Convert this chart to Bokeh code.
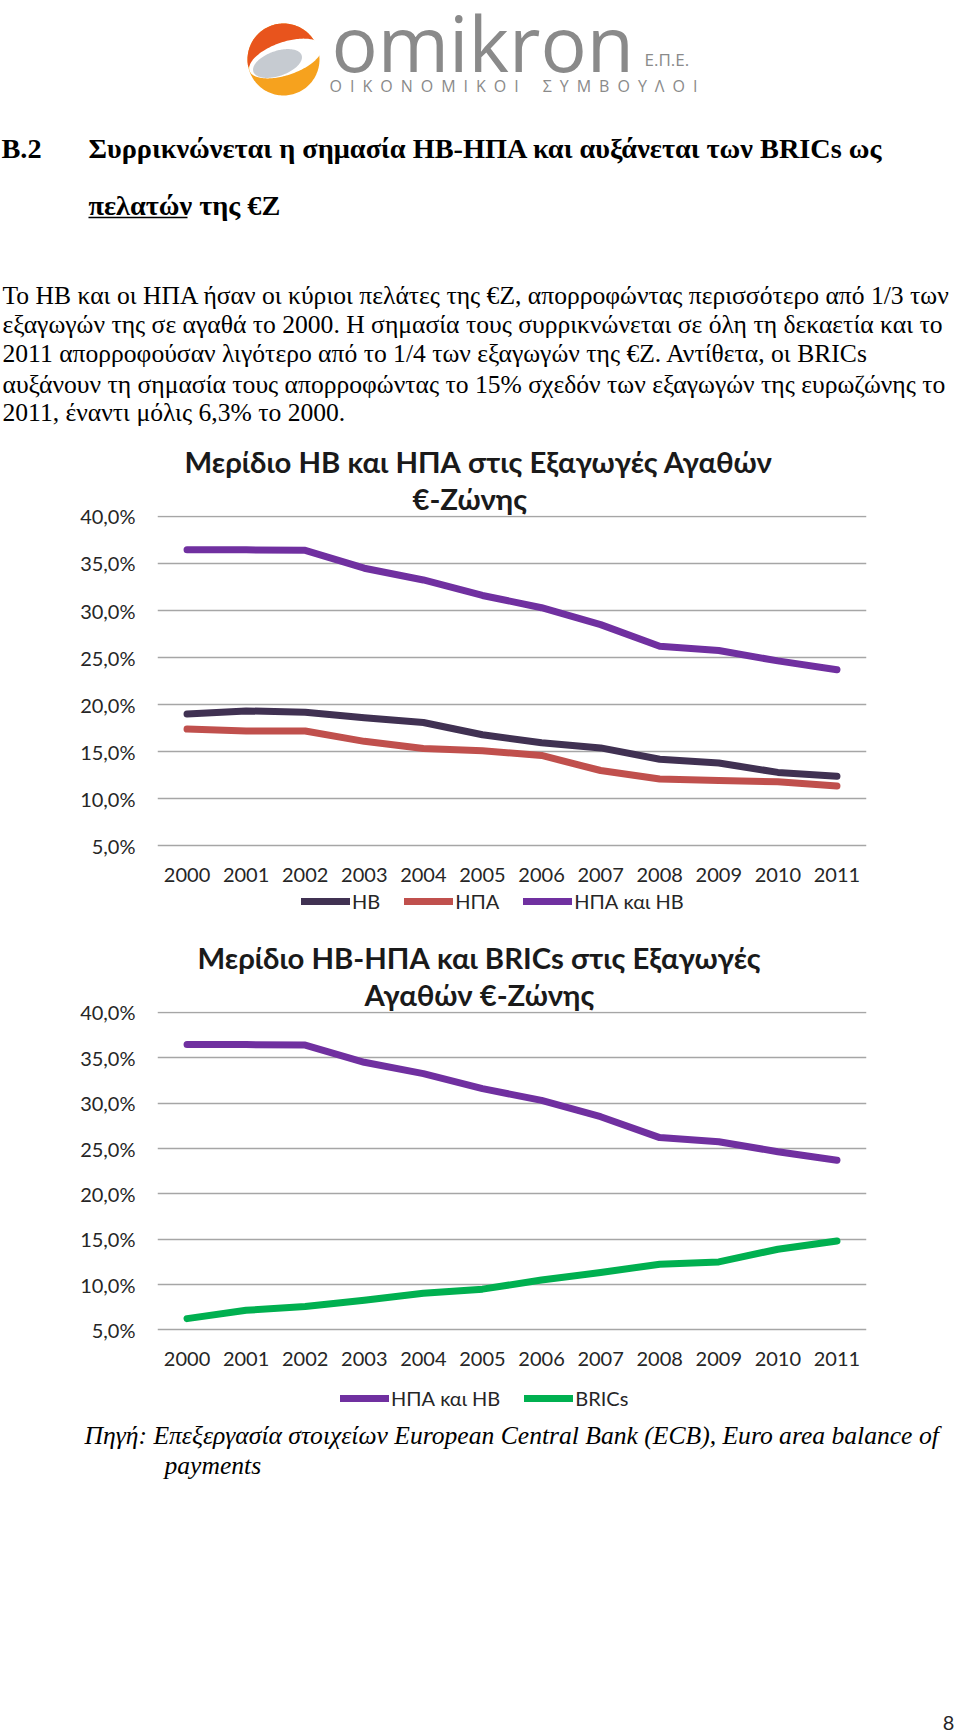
import numpy as np
from bokeh.plotting import figure
from bokeh.models import Range1d, FactorRange, FixedTicker, Legend, LegendItem, Title
from bokeh.embed import file_html
from bokeh.resources import INLINE
from bokeh.core.properties import value

# ---------------- data ----------------
years = ["2000", "2001", "2002", "2003", "2004", "2005",
         "2006", "2007", "2008", "2009", "2010", "2011"]
hb = [19.0, 19.33, 19.2, 18.6, 18.1, 16.8, 15.95, 15.4, 14.2, 13.8, 12.8, 12.4]
hpa = [17.4, 17.2, 17.2, 16.1, 15.35, 15.1, 14.6, 13.0, 12.1, 11.95, 11.8, 11.35]
hpa_hb = [36.45, 36.45, 36.4, 34.5, 33.25, 31.6, 30.3, 28.5, 26.2, 25.75, 24.65, 23.7]
brics = [6.25, 7.17, 7.58, 8.28, 9.05, 9.5, 10.5, 11.33, 12.25, 12.5, 13.9, 14.8]

y_ticks = [5, 10, 15, 20, 25, 30, 35, 40]
y_tick_labels = ["5,0%", "10,0%", "15,0%", "20,0%", "25,0%", "30,0%", "35,0%", "40,0%"]

chart1_title = ["Μερίδιο ΗΒ και ΗΠΑ στις Εξαγωγές Αγαθών", "€-Ζώνης"]
chart2_title = ["Μερίδιο ΗΒ-ΗΠΑ και BRICs στις Εξαγωγές", "Αγαθών €-Ζώνης"]

heading_num = "B.2"
heading_lines = ["Συρρικνώνεται η σημασία ΗΒ-ΗΠΑ και αυξάνεται των BRICs ως",
                 "πελατών της €Ζ"]
body_lines = [
    "Το ΗΒ και οι ΗΠΑ ήσαν οι κύριοι πελάτες της €Ζ, απορροφώντας περισσότερο από 1/3 των",
    "εξαγωγών της σε αγαθά το 2000.  Η σημασία τους συρρικνώνεται σε όλη τη δεκαετία και το",
    "2011 απορροφούσαν λιγότερο από το 1/4 των εξαγωγών της €Ζ.  Αντίθετα, οι BRICs",
    "αυξάνουν τη σημασία τους απορροφώντας το 15% σχεδόν των εξαγωγών της ευρωζώνης το",
    "2011, έναντι μόλις 6,3% το 2000.",
]
source_lines = ["Πηγή:  Επεξεργασία στοιχείων European Central Bank (ECB), Euro area balance of",
                "payments"]

C_HB = "#403152"
C_HPA = "#C0504D"
C_HPAHB = "#7030A0"
C_BRICS = "#00B050"
TXT = "#262626"
W = 960


def blank(height, y0):
    p = figure(width=W, height=height, x_range=Range1d(0, W), y_range=Range1d(y0 + height, y0),
               output_backend="svg", toolbar_location=None, title=None,
               x_axis_location=None, y_axis_location=None, min_border=0)
    p.grid.visible = False
    p.outline_line_color = None
    return p


# ---------------- header (image pixel coordinates) ----------------
HDR_H = 434
hdr = blank(HDR_H, 0)

cx, cy, r = 283.0, 59.0, 36.0
t = np.linspace(0, 2 * np.pi, 160)
hdr.patch(cx + r * np.cos(t), cy - r * np.sin(t), fill_color="#F6A21E", line_color=None)
t2 = np.linspace(0.2, np.pi + 0.2, 100)
hdr.patch(cx + r * np.cos(t2), cy - r * np.sin(t2), fill_color="#E8541D", line_color=None)


def ell(x0, y0, a, b, ang):
    xs = a * np.cos(t)
    ys = b * np.sin(t)
    xr = xs * np.cos(ang) - ys * np.sin(ang)
    yr = xs * np.sin(ang) + ys * np.cos(ang)
    return x0 + xr, y0 - yr


wx, wy = ell(cx + 2, cy - 1, 38, 16.5, 0.33)
hdr.patch(wx, wy, fill_color="white", line_color=None)
gx, gy = ell(cx - 6, cy + 4, 25.5, 12.5, 0.33)
hdr.patch(gx, gy, fill_color="#C6CBD1", line_color=None)

sep = "\u2002"
logo_sub = sep.join("ΟΙΚΟΝΟΜΙΚΟΙ") + sep * 3 + sep.join("ΣΥΜΒΟΥΛΟΙ")
hdr.text(x=[331], y=[42], text=["omikron"], text_font=value("Open Sans"), text_font_size=value("77px"),
         text_color="#8A8A8A", text_baseline="middle", text_align="left")
hdr.text(x=[644], y=[59], text=["Ε.Π.Ε."], text_font=value("Open Sans"), text_font_size=value("17px"),
         text_color="#8A8A8A", text_baseline="middle", text_align="left")
hdr.text(x=[329], y=[85], text=[logo_sub], text_font=value("Open Sans"),
         text_font_size=value("16px"), text_color="#8A8A8A", text_baseline="middle", text_align="left")

hdr.text(x=[1, 88, 88], y=[148, 148, 205], text=[heading_num] + heading_lines,
         text_font=value("Liberation Serif"), text_font_style="bold", text_font_size=value("28.3px"),
         text_color="black", text_baseline="middle", text_align="left")
hdr.segment(x0=[88], y0=[217], x1=[187], y1=[217], line_color="black", line_width=1.5)

hdr.text(x=[2] * 5, y=[295, 324, 353, 384, 412], text=body_lines,
         text_font=value("Liberation Serif"), text_font_size=value("25.6px"),
         text_color="black", text_baseline="middle", text_align="left")


# ---------------- charts ----------------
FRAME_L = 157
FRAME_W = 709


def chart(height, top, fh, bottom, titles, series):
    p = figure(width=W, height=height, x_range=FactorRange(factors=years, range_padding=0),
               y_range=Range1d(4.5, 40.1), output_backend="svg", toolbar_location=None, title=None,
               min_border_left=FRAME_L, min_border_right=W - FRAME_L - FRAME_W,
               min_border_top=top, min_border_bottom=bottom)
    p.outline_line_color = None
    p.xgrid.grid_line_color = None
    p.ygrid.grid_line_color = "#A6A6A6"
    p.ygrid.grid_line_width = 1.5
    p.ygrid.ticker = FixedTicker(ticks=y_ticks)
    p.yaxis.ticker = FixedTicker(ticks=y_ticks)
    p.yaxis.major_label_overrides = {k: v for k, v in zip(y_ticks, y_tick_labels)}
    for ax in (p.xaxis[0], p.yaxis[0]):
        ax.axis_line_color = None
        ax.major_tick_line_color = None
        ax.minor_tick_line_color = None
        ax.major_tick_in = 0
        ax.major_tick_out = 0
        ax.major_label_text_font = "Lato"
        ax.major_label_text_font_size = "20px"
        ax.major_label_text_color = TXT
    p.xaxis.major_label_standoff = 17
    p.yaxis.major_label_standoff = 22

    for name, vals, col in series:
        p.line(x=years, y=vals, line_color=col, line_width=7, line_cap="round", line_join="round")

    for txt, off in titles:
        p.add_layout(Title(text=txt, align="left", offset=off, standoff=0, text_font="Lato",
                           text_font_style="bold", text_font_size="29.3px", text_color="#1A1A1A"), "above")
    return p


def legend_fig(height, y0, series, x_start, vy):
    lf = blank(height, y0)
    items = []
    for name, vals, col in series:
        # off-canvas proxy renderer that only carries the legend style
        rr = lf.line(x=[-40, -20], y=[y0, y0], line_color=col, line_width=7, line_cap="round")
        items.append(LegendItem(label=name, renderers=[rr]))
    leg = Legend(items=items, location=(x_start, vy), orientation="horizontal", glyph_width=49,
                 glyph_height=20, label_height=20, label_standoff=2, spacing=24, padding=0, margin=0,
                 border_line_color=None, background_fill_alpha=0, label_text_font="Lato",
                 label_text_font_size="20px", label_text_color=TXT)
    lf.add_layout(leg)
    return lf


s1 = [("ΗΒ", hb, C_HB), ("ΗΠΑ", hpa, C_HPA), ("ΗΠΑ και ΗΒ", hpa_hb, C_HPAHB)]
s2 = [("ΗΠΑ και ΗΒ", hpa_hb, C_HPAHB), ("BRICs", brics, C_BRICS)]

# chart 1: image y 434..888 ; frame 515..850
c1 = chart(454, 81, 335, 38, [(chart1_title[1], 255), (chart1_title[0], 27)], s1)
l1 = legend_fig(37, 888, s1, 301, 12)
# chart 2: image y 925..1380 ; frame 1011..1334
c2 = chart(455, 86, 323, 46, [(chart2_title[1], 207), (chart2_title[0], 40)], s2)
l2 = legend_fig(40, 1380, s2, 340, 10)

# ---------------- footer ----------------
ftr = blank(314, 1420)
ftr.text(x=[84, 164], y=[1435, 1465], text=source_lines, text_font=value("Liberation Serif"),
         text_font_style="italic", text_font_size=value("25.6px"), text_color="black",
         text_baseline="middle", text_align="left")
ftr.text(x=[948], y=[1722], text=["8"], text_font=value("Lato"), text_font_size=value("20px"),
         text_color=TXT, text_baseline="middle", text_align="center")

open("out.html", "w").write(file_html([hdr, c1, l1, c2, l2, ftr], INLINE))
